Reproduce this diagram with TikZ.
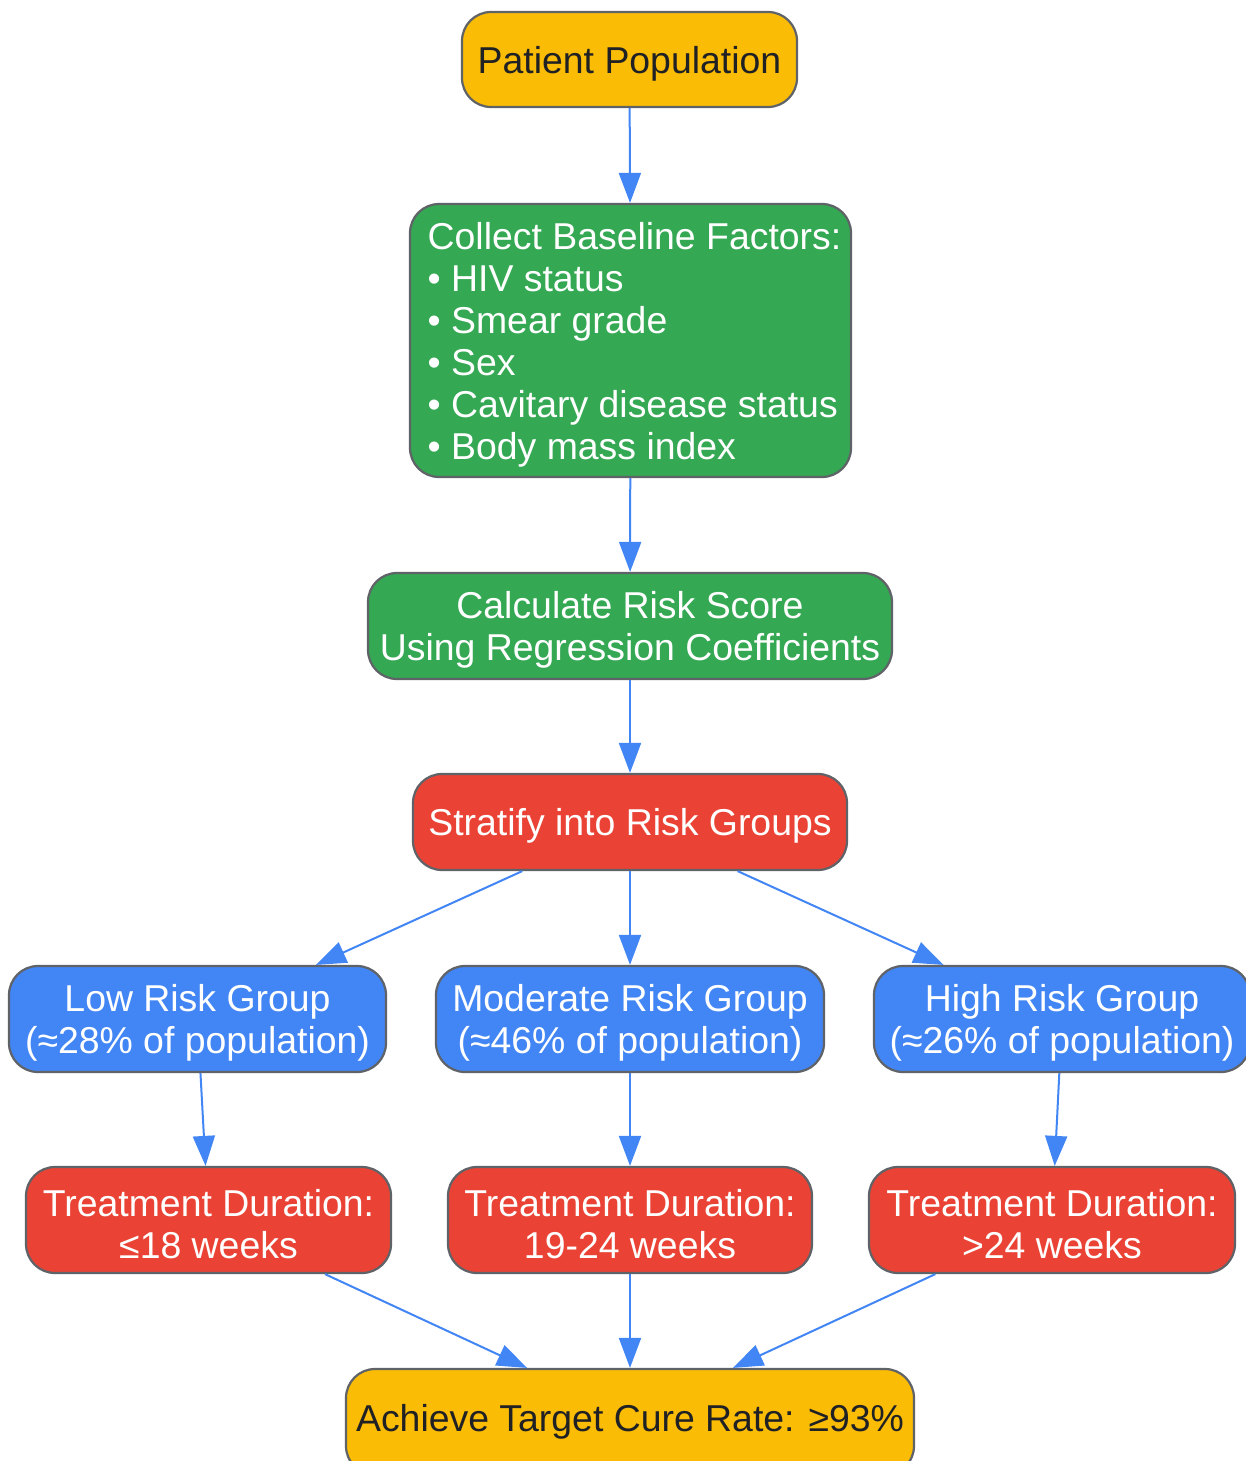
\documentclass[tikz,border=0pt]{standalone}
\usepackage{fontspec}
\setmainfont{Liberation Sans}
\usetikzlibrary{arrows.meta}
\definecolor{cyellow}{HTML}{FBBC05}
\definecolor{cgreen}{HTML}{34A853}
\definecolor{cred}{HTML}{EA4335}
\definecolor{cblue}{HTML}{4285F4}
\definecolor{cborder}{HTML}{5F6368}
\definecolor{cdark}{HTML}{202124}
\newcommand{\tstrut}{\rule{0pt}{35pt}}
\newcommand{\lpad}{\hspace*{8pt}}
\tikzset{
  box/.style={draw=cborder, line width=2.2pt, rounded corners=29pt, inner sep=0pt,
    font=\fontsize{37.4}{42}\selectfont, align=center, minimum height=106pt},
  ybox/.style={box, fill=cyellow, text=cdark},
  gbox/.style={box, fill=cgreen, text=white},
  rbox/.style={box, fill=cred, text=white},
  bbox/.style={box, fill=cblue, text=white},
  conn/.style={draw=cblue, line width=2pt, -{Triangle[length=30pt,width=22pt]}}
}
\begin{document}
\begin{tikzpicture}[x=1pt,y=-1pt]
\useasboundingbox (0,0) rectangle (1246,1461);
\begin{scope}
\clip (0,0) rectangle (1246,1461);
\node[ybox, minimum width=335pt, minimum height=95pt] (pp) at (629.5,59.5) {\tstrut Patient Population};
\node[gbox, minimum width=441pt, minimum height=273pt, align=left] (collect) at (630.5,340.5)
  {\lpad\tstrut Collect Baseline Factors:\\\lpad• HIV status\\\lpad• Smear grade\\\lpad• Sex\\\lpad• Cavitary disease status\\\lpad• Body mass index};
\node[gbox, minimum width=524pt] (calc) at (630,626) {\tstrut Calculate Risk Score\\Using Regression Coefficients};
\node[rbox, minimum width=434pt, minimum height=96pt] (strat) at (630,822) {\tstrut Stratify into Risk Groups};
\node[bbox, minimum width=377pt] (low) at (197.5,1019) {\tstrut Low Risk Group\\(≈28\% of population)};
\node[bbox, minimum width=388pt] (mod) at (630,1019) {\tstrut Moderate Risk Group\\(≈46\% of population)};
\node[bbox, minimum width=376pt] (high) at (1062,1019) {\tstrut High Risk Group\\(≈26\% of population)};
\node[rbox, minimum width=365pt] (t1) at (208.5,1220) {\tstrut Treatment Duration:\\≤18 weeks};
\node[rbox, minimum width=364pt] (t2) at (630,1220) {\tstrut Treatment Duration:\\19-24 weeks};
\node[rbox, minimum width=366pt] (t3) at (1052,1220) {\tstrut Treatment Duration:\\>24 weeks};
\node[ybox, minimum width=568pt] (ach) at (630,1422) {Achieve Target Cure Rate: ≥93\%};
\draw[conn] (pp) -- (collect);
\draw[conn] (collect) -- (calc);
\draw[conn] (calc) -- (strat);
\draw[conn] (strat) -- (low);
\draw[conn] (strat) -- (mod);
\draw[conn] (strat) -- (high);
\draw[conn] (low) -- (t1);
\draw[conn] (mod) -- (t2);
\draw[conn] (high) -- (t3);
\draw[conn] (t1) -- ([xshift=-103pt]ach.north);
\draw[conn] (t2) -- (ach);
\draw[conn] (t3) -- ([xshift=103pt]ach.north);
\end{scope}
\end{tikzpicture}
\end{document}
